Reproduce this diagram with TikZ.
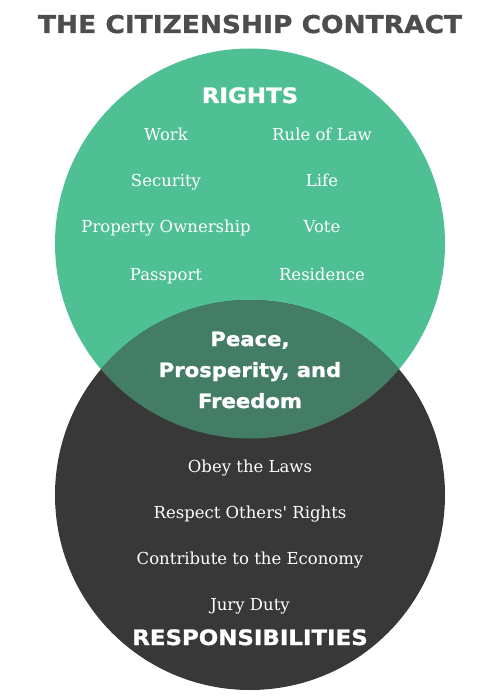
\documentclass[tikz,border=0pt]{standalone}
\usepackage{fontspec}
\setmainfont{DejaVu Serif}[Ligatures=TeXOff]
\newfontfamily\headfont{DejaVu Sans}[FakeStretch=1.08,BoldFeatures={FakeBold=1.2}]
\definecolor{rightsgreen}{HTML}{4FBF94}
\definecolor{dutygray}{HTML}{383838}
\definecolor{lensgreen}{HTML}{437D66}
\definecolor{titlegray}{HTML}{4D4D4F}
\begin{document}
\begin{tikzpicture}[x=1pt,y=-1pt,
  heading/.style={anchor=base,text=white,font=\headfont\bfseries\fontsize{21.2}{25}\selectfont},
  item/.style={anchor=base,text=white,font=\fontsize{16.5}{20}\selectfont},
  core/.style={anchor=base,text=white,font=\headfont\bfseries\fontsize{19.6}{23}\selectfont}]
  \useasboundingbox (0,0) rectangle (500,700);
  \fill[rightsgreen] (250,243.5) circle (195);
  \fill[dutygray] (250,495) circle (195);
  \begin{scope}
    \clip (250,243.5) circle (195);
    \fill[lensgreen] (250,495) circle (195);
  \end{scope}
  \node[anchor=base,text=titlegray,font=\headfont\bfseries\fontsize{24.5}{30}\selectfont] (title) at (250,33) {THE CITIZENSHIP CONTRACT};
  % rights
  \node[heading] (rights) at (250,103) {RIGHTS};
  \node[item] (work) at (166,141) {Work};
  \node[item] (law) at (322,141) {Rule of Law};
  \node[item] (security) at (166,187) {Security};
  \node[item] (life) at (322,187) {Life};
  \node[item] (property) at (166,233) {Property Ownership};
  \node[item] (vote) at (322,233) {Vote};
  \node[item] (passport) at (166,280) {Passport};
  \node[item] (residence) at (322,280) {Residence};
  % overlap
  \node[core] (peace) at (250,346) {Peace,};
  \node[core] (prosperity) at (250,377) {Prosperity, and};
  \node[core] (freedom) at (250,408) {Freedom};
  % responsibilities
  \node[item] (laws) at (250,472) {Obey the Laws};
  \node[item] (others) at (250,518) {Respect Others' Rights};
  \node[item] (economy) at (250,564) {Contribute to the Economy};
  \node[item] (jury) at (250,610) {Jury Duty};
  \node[heading] (resp) at (250,645) {RESPONSIBILITIES};
\end{tikzpicture}
\end{document}
